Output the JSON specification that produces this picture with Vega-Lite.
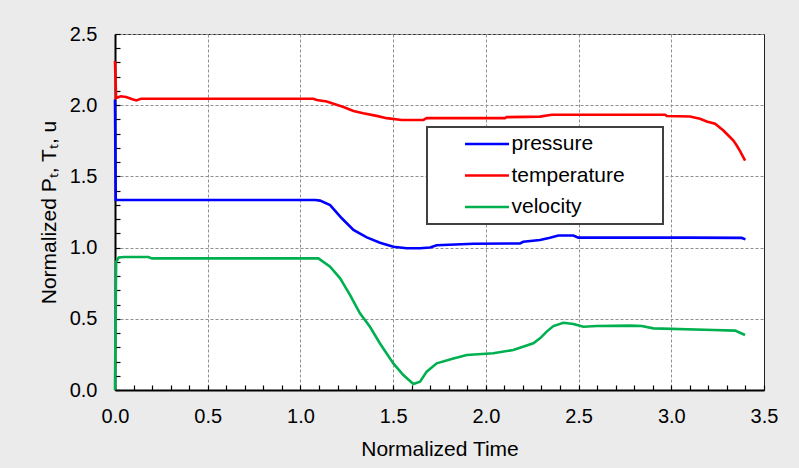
{
  "$schema": "https://vega.github.io/schema/vega-lite/v6.json",
  "autosize": {"type": "none"},
  "padding": {"left": 115, "top": 34, "right": 35, "bottom": 78},
  "width": 649,
  "height": 356,
  "background": "#ebebeb",
  "config": {
    "view": {"fill": "white", "stroke": "#222222", "strokeWidth": 1},
    "font": "Liberation Sans"
  },
  "data": {
    "values": [
      {"t": 0, "series": "pressure", "v": 2.04},
      {"t": 0.004, "series": "pressure", "v": 1.334},
      {"t": 1.08, "series": "pressure", "v": 1.334},
      {"t": 1.106, "series": "pressure", "v": 1.33},
      {"t": 1.16, "series": "pressure", "v": 1.299},
      {"t": 1.223, "series": "pressure", "v": 1.206},
      {"t": 1.286, "series": "pressure", "v": 1.124},
      {"t": 1.358, "series": "pressure", "v": 1.072},
      {"t": 1.429, "series": "pressure", "v": 1.034},
      {"t": 1.501, "series": "pressure", "v": 1.006},
      {"t": 1.573, "series": "pressure", "v": 0.995},
      {"t": 1.645, "series": "pressure", "v": 0.995},
      {"t": 1.699, "series": "pressure", "v": 1.001},
      {"t": 1.735, "series": "pressure", "v": 1.016},
      {"t": 1.933, "series": "pressure", "v": 1.027},
      {"t": 2.184, "series": "pressure", "v": 1.029},
      {"t": 2.202, "series": "pressure", "v": 1.041},
      {"t": 2.292, "series": "pressure", "v": 1.053},
      {"t": 2.346, "series": "pressure", "v": 1.069},
      {"t": 2.391, "series": "pressure", "v": 1.085},
      {"t": 2.472, "series": "pressure", "v": 1.085},
      {"t": 2.499, "series": "pressure", "v": 1.07},
      {"t": 2.778, "series": "pressure", "v": 1.07},
      {"t": 3.1, "series": "pressure", "v": 1.07},
      {"t": 3.38, "series": "pressure", "v": 1.068},
      {"t": 3.4, "series": "pressure", "v": 1.058},

      {"t": 0, "series": "temperature", "v": 2.31},
      {"t": 0.006, "series": "temperature", "v": 2.05},
      {"t": 0.03, "series": "temperature", "v": 2.063},
      {"t": 0.06, "series": "temperature", "v": 2.058},
      {"t": 0.09, "series": "temperature", "v": 2.043},
      {"t": 0.115, "series": "temperature", "v": 2.033},
      {"t": 0.14, "series": "temperature", "v": 2.045},
      {"t": 1.07, "series": "temperature", "v": 2.045},
      {"t": 1.088, "series": "temperature", "v": 2.036},
      {"t": 1.142, "series": "temperature", "v": 2.026},
      {"t": 1.178, "series": "temperature", "v": 2.01},
      {"t": 1.232, "series": "temperature", "v": 1.987},
      {"t": 1.286, "series": "temperature", "v": 1.96},
      {"t": 1.339, "series": "temperature", "v": 1.944},
      {"t": 1.411, "series": "temperature", "v": 1.925},
      {"t": 1.465, "series": "temperature", "v": 1.909},
      {"t": 1.546, "series": "temperature", "v": 1.896},
      {"t": 1.663, "series": "temperature", "v": 1.896},
      {"t": 1.681, "series": "temperature", "v": 1.909},
      {"t": 2.103, "series": "temperature", "v": 1.909},
      {"t": 2.112, "series": "temperature", "v": 1.916},
      {"t": 2.292, "series": "temperature", "v": 1.92},
      {"t": 2.355, "series": "temperature", "v": 1.933},
      {"t": 2.967, "series": "temperature", "v": 1.933},
      {"t": 2.976, "series": "temperature", "v": 1.924},
      {"t": 3.101, "series": "temperature", "v": 1.921},
      {"t": 3.155, "series": "temperature", "v": 1.905},
      {"t": 3.191, "series": "temperature", "v": 1.886},
      {"t": 3.236, "series": "temperature", "v": 1.87},
      {"t": 3.281, "series": "temperature", "v": 1.822},
      {"t": 3.308, "series": "temperature", "v": 1.787},
      {"t": 3.335, "series": "temperature", "v": 1.752},
      {"t": 3.353, "series": "temperature", "v": 1.717},
      {"t": 3.371, "series": "temperature", "v": 1.677},
      {"t": 3.398, "series": "temperature", "v": 1.611},

      {"t": 0, "series": "velocity", "v": 0},
      {"t": 0.006, "series": "velocity", "v": 0.9},
      {"t": 0.02, "series": "velocity", "v": 0.93},
      {"t": 0.05, "series": "velocity", "v": 0.934},
      {"t": 0.18, "series": "velocity", "v": 0.934},
      {"t": 0.2, "series": "velocity", "v": 0.924},
      {"t": 1.097, "series": "velocity", "v": 0.924},
      {"t": 1.16, "series": "velocity", "v": 0.866},
      {"t": 1.214, "series": "velocity", "v": 0.784},
      {"t": 1.268, "series": "velocity", "v": 0.667},
      {"t": 1.321, "series": "velocity", "v": 0.538},
      {"t": 1.375, "series": "velocity", "v": 0.444},
      {"t": 1.429, "series": "velocity", "v": 0.327},
      {"t": 1.501, "series": "velocity", "v": 0.187},
      {"t": 1.555, "series": "velocity", "v": 0.105},
      {"t": 1.609, "series": "velocity", "v": 0.042},
      {"t": 1.645, "series": "velocity", "v": 0.058},
      {"t": 1.681, "series": "velocity", "v": 0.129},
      {"t": 1.735, "series": "velocity", "v": 0.187},
      {"t": 1.825, "series": "velocity", "v": 0.222},
      {"t": 1.897, "series": "velocity", "v": 0.246},
      {"t": 2.04, "series": "velocity", "v": 0.258},
      {"t": 2.148, "series": "velocity", "v": 0.281},
      {"t": 2.256, "series": "velocity", "v": 0.328},
      {"t": 2.292, "series": "velocity", "v": 0.363},
      {"t": 2.328, "series": "velocity", "v": 0.41},
      {"t": 2.364, "series": "velocity", "v": 0.449},
      {"t": 2.418, "series": "velocity", "v": 0.472},
      {"t": 2.472, "series": "velocity", "v": 0.463},
      {"t": 2.526, "series": "velocity", "v": 0.444},
      {"t": 2.598, "series": "velocity", "v": 0.449},
      {"t": 2.778, "series": "velocity", "v": 0.452},
      {"t": 2.84, "series": "velocity", "v": 0.449},
      {"t": 2.904, "series": "velocity", "v": 0.433},
      {"t": 3.227, "series": "velocity", "v": 0.421},
      {"t": 3.344, "series": "velocity", "v": 0.417},
      {"t": 3.398, "series": "velocity", "v": 0.386}
    ]
  },
  "mark": {"type": "line", "strokeWidth": 2.6},
  "encoding": {
    "x": {
      "field": "t",
      "type": "quantitative",
      "scale": {"domain": [0, 3.5], "nice": false, "zero": false},
      "axis": {
        "title": "Normalized Time",
        "titleFont": "Liberation Sans",
        "titleFontSize": 21,
        "titleFontWeight": "normal",
        "titleColor": "black",
        "titleX": 324.5,
        "titleY": 65,
        "titleAlign": "center",
        "titleBaseline": "alphabetic",
        "values": [0, 0.1, 0.2, 0.3, 0.4, 0.5, 0.6, 0.7, 0.8, 0.9, 1, 1.1, 1.2, 1.3, 1.4, 1.5, 1.6, 1.7, 1.8, 1.9, 2, 2.1, 2.2, 2.3, 2.4, 2.5, 2.6, 2.7, 2.8, 2.9, 3, 3.1, 3.2, 3.3, 3.4, 3.5],
        "labelExpr": "abs(datum.value*2 - round(datum.value*2)) < 0.001 ? format(datum.value, '.1f') : ''",
        "labelOverlap": false,
        "labelFont": "Liberation Sans",
        "labelFontSize": 20,
        "labelColor": "black",
        "labelPadding": 21,
        "labelFlush": false,
        "tickSize": -5,
        "tickColor": "black",
        "tickWidth": 1.2,
        "domainColor": "black",
        "domainWidth": 2,
        "grid": true,
        "gridColor": "#909090",
        "gridDash": [3, 2],
        "gridWidth": 1,
        "gridOpacity": {"condition": {"test": "abs(datum.value*2 - round(datum.value*2)) < 0.001 && datum.value > 0.01 && datum.value < 3.49", "value": 1}, "value": 0}
      }
    },
    "y": {
      "field": "v",
      "type": "quantitative",
      "scale": {"domain": [0, 2.5], "nice": false, "zero": false},
      "axis": {
        "title": "Normalized Pₜ, Tₜ, u",
        "titleFont": "Liberation Sans",
        "titleFontSize": 21,
        "titleFontWeight": "normal",
        "titleColor": "black",
        "titleAngle": -90,
        "titleX": -60,
        "titleY": 178,
        "titleAlign": "center",
        "titleBaseline": "alphabetic",
        "values": [0, 0.1, 0.2, 0.3, 0.4, 0.5, 0.6, 0.7, 0.8, 0.9, 1, 1.1, 1.2, 1.3, 1.4, 1.5, 1.6, 1.7, 1.8, 1.9, 2, 2.1, 2.2, 2.3, 2.4, 2.5],
        "labelExpr": "abs(datum.value*2 - round(datum.value*2)) < 0.001 ? format(datum.value, '.1f') : ''",
        "labelOverlap": false,
        "labelFont": "Liberation Sans",
        "labelFontSize": 20,
        "labelColor": "black",
        "labelPadding": 23,
        "labelFlush": false,
        "tickSize": -5,
        "tickColor": "black",
        "tickWidth": 1.2,
        "domainColor": "black",
        "domainWidth": 2,
        "grid": true,
        "gridColor": "#909090",
        "gridDash": [3, 2],
        "gridWidth": 1,
        "gridOpacity": {"condition": {"test": "abs(datum.value*2 - round(datum.value*2)) < 0.001 && datum.value > 0.01", "value": 1}, "value": 0}
      }
    },
    "color": {
      "field": "series",
      "type": "nominal",
      "scale": {"domain": ["pressure", "temperature", "velocity"], "range": ["#0000ff", "#ff0000", "#00b050"]},
      "legend": {
        "title": null,
        "orient": "none",
        "legendX": 312,
        "legendY": 93,
        "fillColor": "white",
        "strokeColor": "#404040",
        "padding": 3,
        "symbolType": "stroke",
        "symbolSize": 1936,
        "symbolStrokeWidth": 2.5,
        "clipHeight": 28,
        "rowPadding": 3.5,
        "symbolOffset": 33.5,
        "labelOffset": 1,
        "labelFont": "Liberation Sans",
        "labelFontSize": 21,
        "labelColor": "black",
        "labelLimit": 300,
        "labelExpr": "datum.label + '\u00a0\u00a0\u00a0\u00a0\u00a0\u00a0\u200b'",
        "encode": {"legend": {"update": {"strokeWidth": {"value": 2}}}}
      }
    }
  }
}
